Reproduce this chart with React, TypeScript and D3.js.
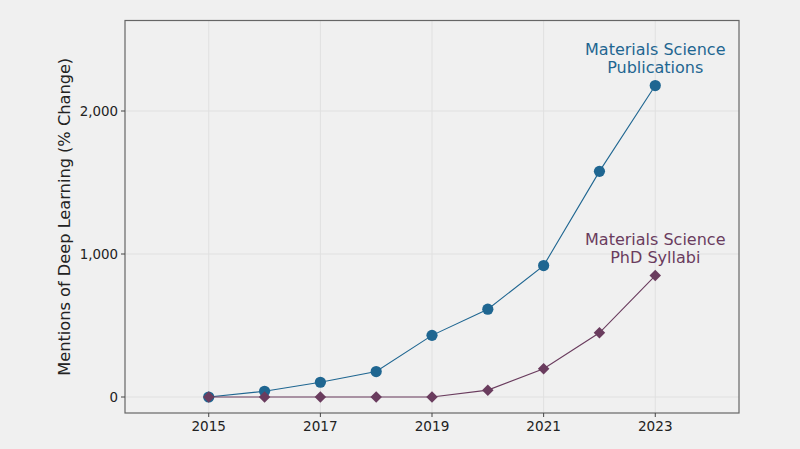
import React from "react";
import * as d3 from "d3";

const years = [2015, 2016, 2017, 2018, 2019, 2020, 2021, 2022, 2023];
const publications = [0, 40, 103, 178, 431, 614, 919, 1578, 2178];
const syllabi = [0, 0, 0, 0, 0, 48, 197, 449, 849];
const xTicks = [2015, 2017, 2019, 2021, 2023];
const yTicks = [0, 1000, 2000];

const W = 800, H = 449;
const m = { left: 125, right: 739, top: 20.5, bottom: 413 };
const BLUE = "#1f6691";
const PURPLE = "#6a3c5e";
const FONT = "DejaVu Sans, sans-serif";

export default function App() {
  const x = d3.scaleLinear().domain([2013.5, 2024.5]).range([m.left, m.right]);
  const y = d3.scaleLinear().domain([0, 1000]).range([397, 254]);
  const line = d3.line<number>().x((_, i) => x(years[i])).y((d) => y(d));
  const fmt = d3.format(",");
  const diamond = d3.symbol().type(d3.symbolSquare).size(66)() as string;
  return (
    <svg width={W} height={H} style={{ position: "absolute", left: 0, top: 0, background: "#f0f0f0" }}>
      <rect x={0} y={0} width={W} height={H} fill="#f0f0f0" />
      {xTicks.map((t) => (
        <line key={"gx" + t} x1={x(t)} x2={x(t)} y1={m.top} y2={m.bottom} stroke="#e0e0e0" strokeWidth={1} />
      ))}
      {yTicks.map((t) => (
        <line key={"gy" + t} x1={m.left} x2={m.right} y1={y(t)} y2={y(t)} stroke="#e0e0e0" strokeWidth={1} />
      ))}
      <rect x={m.left} y={m.top} width={m.right - m.left} height={m.bottom - m.top} fill="none" stroke="#666" strokeWidth={1.2} />
      {xTicks.map((t) => (
        <g key={"tx" + t}>
          <line x1={x(t)} x2={x(t)} y1={m.bottom} y2={m.bottom + 4} stroke="#444" />
          <text x={x(t)} y={m.bottom + 18} textAnchor="middle" fontFamily={FONT} fontSize={13.6} fill="#222">{t}</text>
        </g>
      ))}
      {yTicks.map((t) => (
        <g key={"ty" + t}>
          <line x1={m.left - 4} x2={m.left} y1={y(t)} y2={y(t)} stroke="#444" />
          <text x={m.left - 7} y={y(t)} dy="0.35em" textAnchor="end" fontFamily={FONT} fontSize={13.4} fill="#222">{fmt(t)}</text>
        </g>
      ))}
      <text transform={`translate(70,${(m.top + m.bottom) / 2 + 0}) rotate(-90)`} textAnchor="middle" fontFamily={FONT} fontSize={16.2} fill="#222">
        Mentions of Deep Learning (% Change)
      </text>
      <path d={line(publications) as string} fill="none" stroke={BLUE} strokeWidth={1.1} />
      {publications.map((v, i) => (
        <circle key={"p" + i} cx={x(years[i])} cy={y(v)} r={5.6} fill={BLUE} />
      ))}
      <path d={line(syllabi) as string} fill="none" stroke={PURPLE} strokeWidth={1.1} />
      {syllabi.map((v, i) => (
        <path key={"s" + i} d={diamond} transform={`translate(${x(years[i])},${y(v)}) rotate(45)`} fill={PURPLE} />
      ))}
      <text x={x(2023)} textAnchor="middle" fontFamily={FONT} fontSize={16} fill={BLUE}>
        <tspan x={x(2023)} y={54.5}>Materials Science</tspan>
        <tspan x={x(2023)} y={73}>Publications</tspan>
      </text>
      <text x={x(2023)} textAnchor="middle" fontFamily={FONT} fontSize={16} fill={PURPLE}>
        <tspan x={x(2023)} y={244.5}>Materials Science</tspan>
        <tspan x={x(2023)} y={263}>PhD Syllabi</tspan>
      </text>
    </svg>
  );
}
